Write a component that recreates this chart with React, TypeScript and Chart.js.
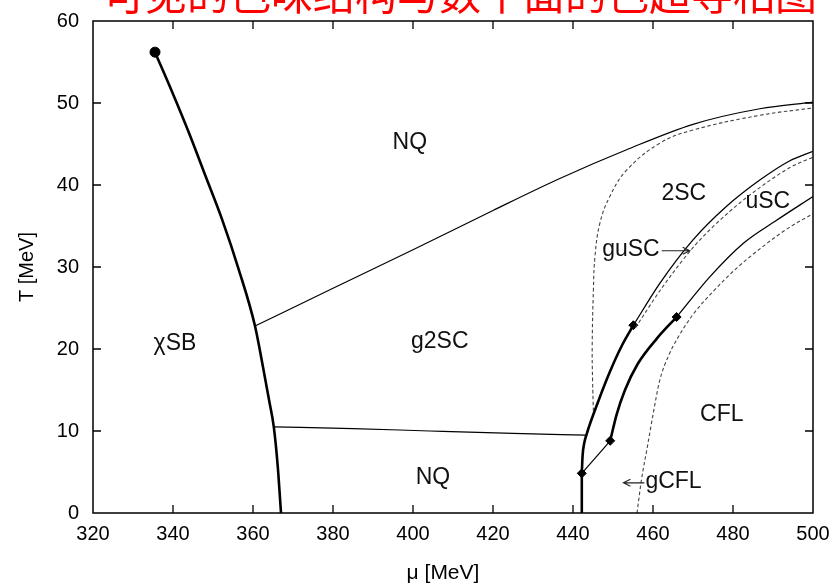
import React, { useEffect, useRef } from "react";
import { Chart, registerables } from "chart.js";

Chart.register(...registerables);

// Axis ticks
const muTicks = [320, 340, 360, 380, 400, 420, 440, 460, 480, 500];
const tTicks = [0, 10, 20, 30, 40, 50, 60];

// Chiral-symmetry-breaking first-order boundary (ends in a critical point)
const chiMu = [335.5, 340.0, 344.2, 348.2, 352.2, 356.5, 360.5, 362.5, 364.0, 365.2, 366.2, 367.0];
const chiT = [56.2, 51.1, 46.1, 41.0, 35.9, 29.6, 22.8, 17.8, 13.8, 10.5, 5.6, 0];

// NQ / g2SC upper boundary
const upperMu = [360.5, 380, 400, 420, 436.7, 453.4, 470, 486.7, 500];
const upperT = [22.8, 27.4, 32.1, 36.9, 40.8, 44.3, 47.4, 49.3, 50.1];

// NQ / g2SC lower boundary
const lowerMu = [365.2, 385, 404.2, 425, 443.2];
const lowerT = [10.5, 10.3, 10.0, 9.7, 9.5];

// g2SC / 2SC gapless boundary (dashed)
const gap2scMu = [445.1, 444.9, 444.8, 445.1, 445.5, 446.7, 449.2, 453.4, 461.7, 470, 486.7, 500];
const gap2scT = [12.4, 16.0, 20.3, 27.2, 31.3, 35.3, 38.6, 41.8, 45.1, 46.7, 48.5, 49.4];

// First-order line above the lower left critical point
const stemMu = [442.2, 442.2];
const stemT = [0, 4.84];
const firstAMu = [442.2, 442.4, 442.8, 443.4, 446.3, 449.2, 452.2, 455.1];
const firstAT = [4.84, 7.0, 8.5, 9.6, 13.6, 17.2, 20.4, 22.9];

// 2SC / uSC boundary (solid) and its gapless partner (dashed)
const uscMu = [455.1, 461.7, 470, 478.4, 486.7, 494, 500];
const uscT = [22.9, 28.0, 33.3, 37.4, 40.6, 42.9, 44.1];
const guscMu = [455.6, 462.3, 470.6, 479, 487.3, 494.5, 500];
const guscT = [22.6, 27.5, 32.7, 36.7, 39.9, 42.2, 43.4];

// Short second-order link between the two lower critical points
const linkMu = [442.2, 449.3];
const linkT = [4.84, 8.8];

// uSC / CFL first-order line and its second-order continuation
const firstBMu = [449.3, 450.9, 453.0, 456.2, 461.0, 465.9];
const firstBT = [8.8, 12.0, 15.0, 18.2, 21.3, 23.9];
const cflMu = [465.9, 474.2, 482.6, 490.9, 500];
const cflT = [23.9, 28.8, 32.9, 35.7, 38.6];

// gCFL / CFL boundary (dashed)
const gcflMu = [456.0, 457.1, 458.6, 460.0, 461.7, 464.0, 466.0, 470, 475, 481, 488, 494, 500];
const gcflT = [0, 4.0, 8.1, 12.0, 16.2, 19.3, 21.2, 24.2, 27.0, 29.9, 32.7, 34.8, 36.5];

// Critical / tricritical points
const circleMu = [335.5];
const circleT = [56.2];
const diamondMu = [442.2, 449.3, 455.1, 465.9];
const diamondT = [4.84, 8.8, 22.9, 23.9];

// Phase labels (text, μ, T); arrows: 1 = arrow after text, -1 = arrow before text
const phaseNames = ["NQ", "χSB", "g2SC", "NQ", "2SC", "uSC", "guSC", "CFL", "gCFL"];
const phaseMu = [399.2, 340.5, 406.7, 405.0, 467.7, 488.7, 447.3, 477.2, 452.6];
const phaseT = [45.2, 20.7, 20.9, 4.3, 38.9, 38.0, 32.1, 12.0, 3.8];
const phaseArrow = [0, 0, 0, 0, 0, 0, 1, 0, -1];

const caption = "可见的色味结构与数平面的色超导相图";

const zip = (xs: number[], ys: number[]) => xs.map((v, i) => ({ x: v, y: ys[i] }));

const FONT = '"Liberation Sans", Arial, Helvetica, sans-serif';

const line = (xs: number[], ys: number[], width: number, dashed = false, mono = true) => ({
  data: zip(xs, ys),
  showLine: true,
  borderColor: dashed ? "#444" : "#000",
  borderWidth: width,
  borderDash: dashed ? [3.5, 2.5] : [],
  pointRadius: 0,
  cubicInterpolationMode: mono ? "monotone" : "default",
  tension: mono ? 0 : 0.4,
  fill: false,
});

const drawArrow = (ctx: CanvasRenderingContext2D, x0: number, x1: number, y: number) => {
  const dir = Math.sign(x1 - x0);
  ctx.beginPath();
  ctx.moveTo(x0, y);
  ctx.lineTo(x1, y);
  ctx.moveTo(x1 - dir * 7, y - 3.5);
  ctx.lineTo(x1, y);
  ctx.lineTo(x1 - dir * 7, y + 3.5);
  ctx.stroke();
};

const framePlugin = {
  id: "gnuplotFrame",
  afterDatasetsDraw(chart: any) {
    const { ctx, chartArea: a, scales } = chart;
    const xs = scales.x;
    const ys = scales.y;
    ctx.save();
    ctx.strokeStyle = "#000";
    ctx.lineWidth = 1.5;
    ctx.strokeRect(a.left, a.top, a.right - a.left, a.bottom - a.top);

    const tl = 8;
    ctx.lineWidth = 1.3;
    ctx.fillStyle = "#000";
    ctx.font = `20px ${FONT}`;
    ctx.textAlign = "center";
    ctx.textBaseline = "top";
    muTicks.forEach((v) => {
      const px = xs.getPixelForValue(v);
      if (v !== muTicks[0] && v !== muTicks[muTicks.length - 1]) {
        ctx.beginPath();
        ctx.moveTo(px, a.bottom);
        ctx.lineTo(px, a.bottom - tl);
        ctx.moveTo(px, a.top);
        ctx.lineTo(px, a.top + tl);
        ctx.stroke();
      }
      ctx.fillText(String(v), px, a.bottom + 11);
    });
    ctx.textAlign = "right";
    ctx.textBaseline = "middle";
    tTicks.forEach((v) => {
      const py = ys.getPixelForValue(v);
      if (v !== tTicks[0] && v !== tTicks[tTicks.length - 1]) {
        ctx.beginPath();
        ctx.moveTo(a.left, py);
        ctx.lineTo(a.left + tl, py);
        ctx.moveTo(a.right, py);
        ctx.lineTo(a.right - tl, py);
        ctx.stroke();
      }
      ctx.fillText(String(v), a.left - 14, py);
    });

    // axis titles
    ctx.textAlign = "center";
    ctx.textBaseline = "middle";
    ctx.font = `21px ${FONT}`;
    ctx.fillText("μ [MeV]", (a.left + a.right) / 2 - 10, a.bottom + 60);
    ctx.font = `20px ${FONT}`;
    ctx.save();
    ctx.translate(27, (a.top + a.bottom) / 2);
    ctx.rotate(-Math.PI / 2);
    ctx.fillText("T [MeV]", 0, 0);
    ctx.restore();

    // phase labels
    ctx.font = `23px ${FONT}`;
    ctx.fillStyle = "#111";
    ctx.strokeStyle = "#222";
    ctx.lineWidth = 1.1;
    phaseNames.forEach((name, i) => {
      const px = xs.getPixelForValue(phaseMu[i]);
      const py = ys.getPixelForValue(phaseT[i]);
      if (phaseArrow[i] === 0) {
        ctx.textAlign = "center";
        ctx.fillText(name, px, py);
      } else if (phaseArrow[i] > 0) {
        ctx.textAlign = "left";
        ctx.fillText(name, px, py);
        const w = ctx.measureText(name).width;
        drawArrow(ctx, px + w + 2, px + w + 30, py + 1);
      } else {
        ctx.textAlign = "left";
        drawArrow(ctx, px + 21, px, py + 1);
        ctx.fillText(name, px + 22, py);
      }
    });

    // red caption across the top edge
    ctx.fillStyle = "#ff0000";
    ctx.font = `42px "Noto Sans CJK SC", sans-serif`;
    ctx.textAlign = "center";
    ctx.textBaseline = "alphabetic";
    ctx.fillText(caption, 460, 10);
    ctx.restore();
  },
};

export default function App() {
  const ref = useRef<HTMLCanvasElement | null>(null);
  useEffect(() => {
    if (!ref.current) return;
    const chart = new Chart(ref.current, {
      type: "scatter",
      data: {
        datasets: [
          line(chiMu, chiT, 2.6),
          line(upperMu, upperT, 1.2),
          line(lowerMu, lowerT, 1.2),
          line(gap2scMu, gap2scT, 1.1, true, false),
          line(stemMu, stemT, 2.6, false, false),
          line(firstAMu, firstAT, 2.6),
          line(uscMu, uscT, 1.3),
          line(guscMu, guscT, 1.1, true),
          line(linkMu, linkT, 1.2),
          line(firstBMu, firstBT, 2.6),
          line(cflMu, cflT, 1.3),
          line(gcflMu, gcflT, 1.1, true),
          {
            data: zip(circleMu, circleT),
            pointStyle: "circle",
            pointRadius: 5,
            backgroundColor: "#000",
            borderColor: "#000",
            showLine: false,
          },
          {
            data: zip(diamondMu, diamondT),
            pointStyle: "rectRot",
            pointRadius: 4.5,
            backgroundColor: "#000",
            borderColor: "#000",
            showLine: false,
          },
        ] as any,
      },
      options: {
        animation: false,
        responsive: false,
        maintainAspectRatio: false,
        layout: { padding: { left: 93, right: 18, top: 21, bottom: 71 } },
        plugins: { legend: { display: false }, tooltip: { enabled: false } },
        scales: {
          x: { type: "linear", min: 320, max: 500, display: false },
          y: { type: "linear", min: 0, max: 60, display: false },
        },
      },
      plugins: [framePlugin],
    });
    return () => chart.destroy();
  }, []);
  return (
    <div style={{ position: "fixed", left: 0, top: 0, width: 831, height: 584, background: "#fff" }}>
      <canvas ref={ref} width={831} height={584} style={{ width: 831, height: 584, display: "block" }} />
    </div>
  );
}
